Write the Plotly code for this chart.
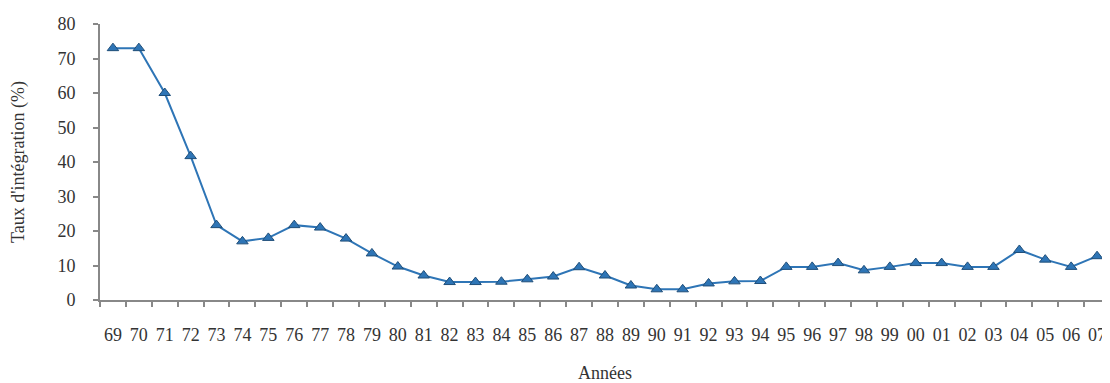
import plotly.graph_objects as go

years = ["69","70","71","72","73","74","75","76","77","78","79","80","81","82","83","84","85","86","87","88","89","90","91","92","93","94","95","96","97","98","99","00","01","02","03","04","05","06","07"]
taux = [73,73,60,41.7,21.7,17,18,21.7,21,17.8,13.5,9.7,7.1,5.2,5.2,5.3,6,6.8,9.5,7.1,4.2,3.1,3.1,4.8,5.4,5.5,9.6,9.6,10.7,8.6,9.6,10.7,10.7,9.6,9.6,14.5,11.7,9.6,12.7]
y_ticks = [0,10,20,30,40,50,60,70,80]

font_fam = "Liberation Serif"
txt = "#333333"

fig = go.Figure()
fig.add_trace(go.Scatter(
    x=years, y=taux, mode="lines+markers",
    line=dict(color="#2e75b6", width=2),
    marker=dict(symbol="triangle-up", size=10, color="#2e75b6",
                line=dict(color="#1f4e79", width=1)),
    cliponaxis=False, showlegend=False,
))

fig.update_layout(
    width=1102, height=375,
    margin=dict(l=92, r=0, t=16, b=83),
    paper_bgcolor="white", plot_bgcolor="white",
    font=dict(family=font_fam, size=18, color=txt),
    xaxis=dict(
        type="category", range=[-0.5, 38.5], automargin=False, tickangle=0,
        tickson="boundaries", ticks="outside", ticklen=5, tickcolor="#888888", tickwidth=2,
        showline=True, linecolor="#888888", linewidth=2,
        showgrid=False, zeroline=False,
        tickfont=dict(family=font_fam, size=18, color=txt),
        ticklabelstandoff=17,
        title=dict(text="Années", font=dict(family=font_fam, size=18, color=txt), standoff=23),
    ),
    yaxis=dict(
        range=[0, 80], tickvals=y_ticks, automargin=False,
        ticks="outside", ticklen=5, tickcolor="#888888", tickwidth=2,
        showline=True, linecolor="#888888", linewidth=2,
        showgrid=False, zeroline=False,
        tickfont=dict(family=font_fam, size=18, color=txt),
        ticklabelstandoff=14,
        title=dict(text="Taux d'intégration (%)", font=dict(family=font_fam, size=18, color=txt), standoff=33),
    ),
)

fig.write_html("out.html")
